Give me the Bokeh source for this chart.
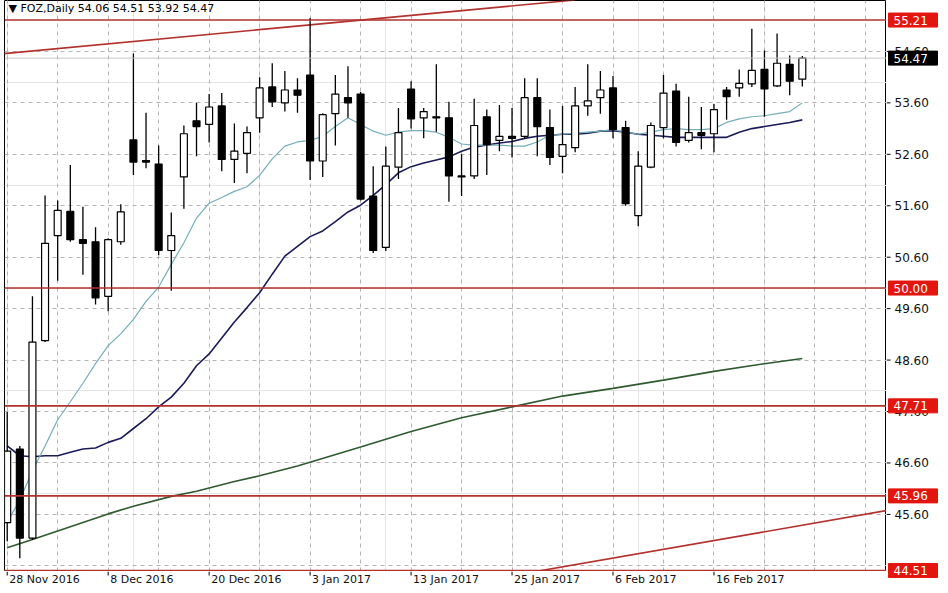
from bokeh.plotting import figure
from bokeh.models import ColumnDataSource, Range1d, FixedTicker, Grid, Label, Span
from bokeh.core.properties import value
from bokeh.layouts import row, column
from bokeh.embed import file_html
from bokeh.resources import INLINE

# ---- data ----
opens = [45.44, 46.87, 45.14, 48.98, 51.02, 51.49, 50.94, 50.90, 49.84, 50.90,
         52.88, 52.48, 52.41, 50.73, 52.16, 53.25, 53.18, 53.54, 52.50, 52.62,
         53.31, 53.91, 53.60, 53.85, 54.14, 52.47, 53.39, 53.70, 53.77, 51.79,
         50.79, 52.35, 53.87, 53.31, 53.33, 53.31, 52.18, 52.18, 53.33, 52.87,
         52.95, 52.95, 53.70, 53.12, 52.56, 52.73, 53.54, 53.70, 53.89, 53.12,
         51.41, 52.35, 53.12, 53.83, 52.87, 53.02, 53.00, 53.85, 53.89, 53.97,
         54.25, 53.93, 54.35, 54.06]
highs = [47.59, 46.93, 49.84, 51.80, 51.70, 52.39, 51.58, 51.18, 50.97, 51.63,
         54.56, 53.41, 52.77, 51.47, 53.16, 53.60, 53.77, 53.79, 53.20, 53.14,
         54.10, 54.37, 54.22, 54.08, 55.25, 53.40, 54.14, 54.31, 53.81, 52.37,
         52.75, 53.50, 54.02, 53.50, 54.35, 53.62, 52.60, 53.68, 53.47, 53.56,
         53.50, 54.08, 54.08, 53.47, 53.54, 53.91, 54.35, 54.22, 54.12, 53.25,
         52.66, 53.22, 54.14, 53.97, 53.72, 53.52, 53.58, 53.91, 54.25, 55.04,
         54.62, 54.95, 54.52, 54.51]
lows = [45.08, 44.75, 45.10, 48.95, 50.14, 50.90, 50.26, 49.68, 49.55, 50.84,
        52.20, 52.33, 50.64, 49.95, 51.54, 52.56, 52.83, 52.27, 52.04, 52.23,
        53.02, 53.52, 53.43, 53.41, 52.10, 52.16, 52.77, 53.31, 51.70, 50.68,
        50.72, 52.12, 53.10, 52.91, 53.04, 51.68, 51.79, 52.12, 52.20, 52.66,
        52.54, 52.90, 52.56, 52.39, 52.23, 52.64, 53.35, 53.39, 52.91, 51.60,
        51.20, 52.33, 52.91, 52.75, 52.83, 52.70, 52.64, 53.27, 53.72, 53.91,
        53.33, 53.91, 53.75, 53.92]
closes = [46.83, 45.14, 48.95, 50.87, 51.51, 50.94, 50.87, 49.81, 50.94, 51.48,
          52.45, 52.45, 50.73, 51.02, 53.00, 53.14, 53.52, 52.50, 52.66, 53.02,
          53.89, 53.62, 53.85, 53.75, 52.47, 53.37, 53.77, 53.60, 51.73, 50.73,
          52.37, 53.02, 53.29, 53.43, 53.31, 52.18, 52.16, 53.16, 52.79, 52.95,
          52.91, 53.70, 53.14, 52.54, 52.79, 53.54, 53.64, 53.85, 53.08, 51.64,
          52.37, 53.16, 53.79, 52.83, 53.02, 52.97, 53.47, 53.72, 53.98, 54.23,
          53.87, 54.37, 54.02, 54.47]

ma_fast = [45.45, 45.88, 46.45, 46.93, 47.44, 47.79, 48.15, 48.53, 48.88, 49.11,
           49.39, 49.74, 50.02, 50.46, 50.88, 51.36, 51.65, 51.76, 51.88, 51.97,
           52.19, 52.51, 52.76, 52.84, 52.87, 52.95, 53.14, 53.31, 53.18, 53.05,
           52.97, 53.03, 53.06, 53.06, 53.03, 52.93, 52.80, 52.78, 52.78, 52.78,
           52.76, 52.76, 52.84, 52.97, 52.99, 53.01, 53.03, 53.05, 53.08, 53.03,
           52.99, 53.03, 53.08, 53.10, 53.08, 53.08, 53.10, 53.22, 53.29, 53.33,
           53.35, 53.39, 53.43, 53.60]
ma_mid = [46.93, 46.74, 46.72, 46.74, 46.74, 46.81, 46.87, 46.89, 47.00, 47.08,
          47.27, 47.46, 47.69, 47.88, 48.15, 48.49, 48.72, 49.03, 49.34, 49.62,
          49.91, 50.27, 50.62, 50.81, 51.00, 51.11, 51.29, 51.48, 51.61, 51.80,
          52.01, 52.24, 52.36, 52.43, 52.49, 52.55, 52.66, 52.74, 52.78, 52.82,
          52.85, 52.91, 52.95, 52.97, 52.99, 52.99, 53.01, 53.05, 53.06, 53.03,
          52.99, 52.97, 52.95, 52.93, 52.93, 52.93, 52.93, 52.93, 53.03, 53.10,
          53.14, 53.18, 53.22, 53.27]
ma_slow_x = [0, 2, 5, 8, 10, 13, 15, 18, 20, 23, 28, 32, 36, 40, 44, 48, 52, 56, 60, 63]
ma_slow_y = [44.95, 45.11, 45.36, 45.61, 45.76, 45.95, 46.05, 46.24, 46.35, 46.54,
             46.91, 47.21, 47.48, 47.69, 47.90, 48.05, 48.21, 48.38, 48.53, 48.63]

upper_trend_x = [-1, 45]
upper_trend_y = [54.54, 55.60]
lower_trend_x = [40, 69.8]
lower_trend_y = [44.41, 45.68]

levels = [55.21, 50.00, 47.71, 45.96, 44.51]
bid_price = 54.47

date_ticks = [0, 8, 16, 24, 32, 40, 48, 56]
date_labels = ["28 Nov 2016", "8 Dec 2016", "20 Dec 2016", "3 Jan 2017",
               "13 Jan 2017", "25 Jan 2017", "6 Feb 2017", "16 Feb 2017"]
price_ticks = [45.6, 46.6, 47.6, 48.6, 49.6, 50.6, 51.6, 52.6, 53.6, 54.6]
grid_prices = [44.6, 45.6, 46.6, 47.6, 48.6, 49.6, 50.6, 51.6, 52.6, 53.6, 54.6, 55.6]
grid_bars = list(range(0, 72, 4))
title_text = "\u25bc FOZ,Daily  54.06 54.51 53.92 54.47"

# ---- layout constants ----
FONT = "DejaVu Sans"
FW, FH = 882, 571          # main frame
AXW, AXH = 54, 14          # right price strip, bottom date strip
LEFT = 4
x_start, x_end = -0.214, 69.67
y_lo, y_hi = 44.49, 55.59
RED_LINE = "#b3302c"
RED_BOX = "#e3160f"

def bare(fig):
    fig.background_fill_color = "white"
    fig.border_fill_color = "white"
    fig.min_border_left = fig.min_border_right = 0
    fig.min_border_top = fig.min_border_bottom = 0
    return fig

# ---- main chart ----
p = figure(frame_width=FW, frame_height=FH, output_backend="svg", toolbar_location=None,
           x_range=Range1d(x_start, x_end), y_range=Range1d(y_lo, y_hi),
           x_axis_location=None, y_axis_location=None)
bare(p)
p.min_border_left = LEFT
p.outline_line_color = "black"
p.outline_line_width = 1

p.add_layout(Grid(dimension=0, ticker=FixedTicker(ticks=grid_bars), grid_line_color="#b4b4b4",
                  grid_line_dash="4 4", grid_line_width=1))
p.add_layout(Grid(dimension=1, ticker=FixedTicker(ticks=grid_prices), grid_line_color="#b4b4b4",
                  grid_line_dash="4 4", grid_line_width=1))

for lv in levels:
    p.add_layout(Span(location=lv, dimension="width", line_color=RED_LINE, line_width=1.6))
p.add_layout(Span(location=bid_price, dimension="width", line_color="#c4c4c4", line_width=1))

p.line(upper_trend_x, upper_trend_y, line_color=RED_LINE, line_width=1.6)
p.line(lower_trend_x, lower_trend_y, line_color=RED_LINE, line_width=1.6)

idx = list(range(len(opens)))
p.line(ma_slow_x, ma_slow_y, line_color="#2f5a2f", line_width=1.6)
p.line(idx, ma_mid, line_color="#1b1b5a", line_width=1.6)
p.line(idx, ma_fast, line_color="#74aeb8", line_width=1.2)

src = ColumnDataSource(dict(
    x=idx, open=opens, high=highs, low=lows, close=closes,
    top=[max(o, c) for o, c in zip(opens, closes)],
    bottom=[min(o, c) for o, c in zip(opens, closes)],
    fill=["white" if c >= o else "black" for o, c in zip(opens, closes)],
))
p.segment(x0="x", y0="low", x1="x", y1="high", source=src, line_color="black", line_width=1.3)
p.vbar(x="x", width=0.55, top="top", bottom="bottom", source=src,
       fill_color="fill", line_color="black", line_width=1.2)

p.add_layout(Label(x=x_start, y=y_hi, x_offset=4, y_offset=-1, text=title_text,
                   text_baseline="top", text_align="left", text_color="black",
                   text_font=FONT, text_font_size="11px"))

# ---- bottom date strip ----
pb = figure(frame_width=FW, frame_height=AXH, output_backend="svg", toolbar_location=None,
            x_range=p.x_range, y_range=Range1d(0, AXH),
            x_axis_location=None, y_axis_location=None)
bare(pb)
pb.min_border_left = LEFT
pb.outline_line_color = None
pb.grid.visible = False
date_src = ColumnDataSource(dict(x=date_ticks, label=date_labels))
pb.segment(x0="x", y0=AXH, x1="x", y1=AXH - 4, source=date_src, line_color="black", line_width=1)
pb.text(x="x", y=AXH - 1, text="label", source=date_src, x_offset=2, text_baseline="top",
        text_align="left", text_font=value(FONT), text_font_size=value("11px"),
        text_color="#111111")

# ---- right price strip (runs down beside the date strip too) ----
px_per_unit = FH / (y_hi - y_lo)
pr = figure(frame_width=AXW, frame_height=FH + AXH, output_backend="svg", toolbar_location=None,
            x_range=Range1d(0, AXW), y_range=Range1d(y_lo - AXH / px_per_unit, y_hi),
            x_axis_location=None, y_axis_location=None)
bare(pr)
pr.outline_line_color = None
pr.grid.visible = False
tick_src = ColumnDataSource(dict(y=price_ticks, label=[f"{v:.2f}" for v in price_ticks]))
pr.segment(x0=0, y0="y", x1=4, y1="y", source=tick_src, line_color="black", line_width=1)
pr.text(x=8, y="y", text="label", source=tick_src, text_baseline="middle", text_align="left",
        text_font=value(FONT), text_font_size=value("12px"), text_color="#111111")

box_src = ColumnDataSource(dict(
    y=levels + [bid_price],
    label=[f"{v:.2f}" for v in levels + [bid_price]],
    color=[RED_BOX] * len(levels) + ["black"],
))
pr.rect(x=26.5, y="y", width=49, height=14, height_units="screen", source=box_src,
        fill_color="color", line_color="color")
pr.text(x=7, y="y", text="label", source=box_src, text_baseline="middle", text_align="left",
        text_font=value(FONT), text_font_size=value("12px"), text_color="white")

layout = row(column(p, pb), pr)
open("out.html", "w").write(file_html(layout, INLINE))
